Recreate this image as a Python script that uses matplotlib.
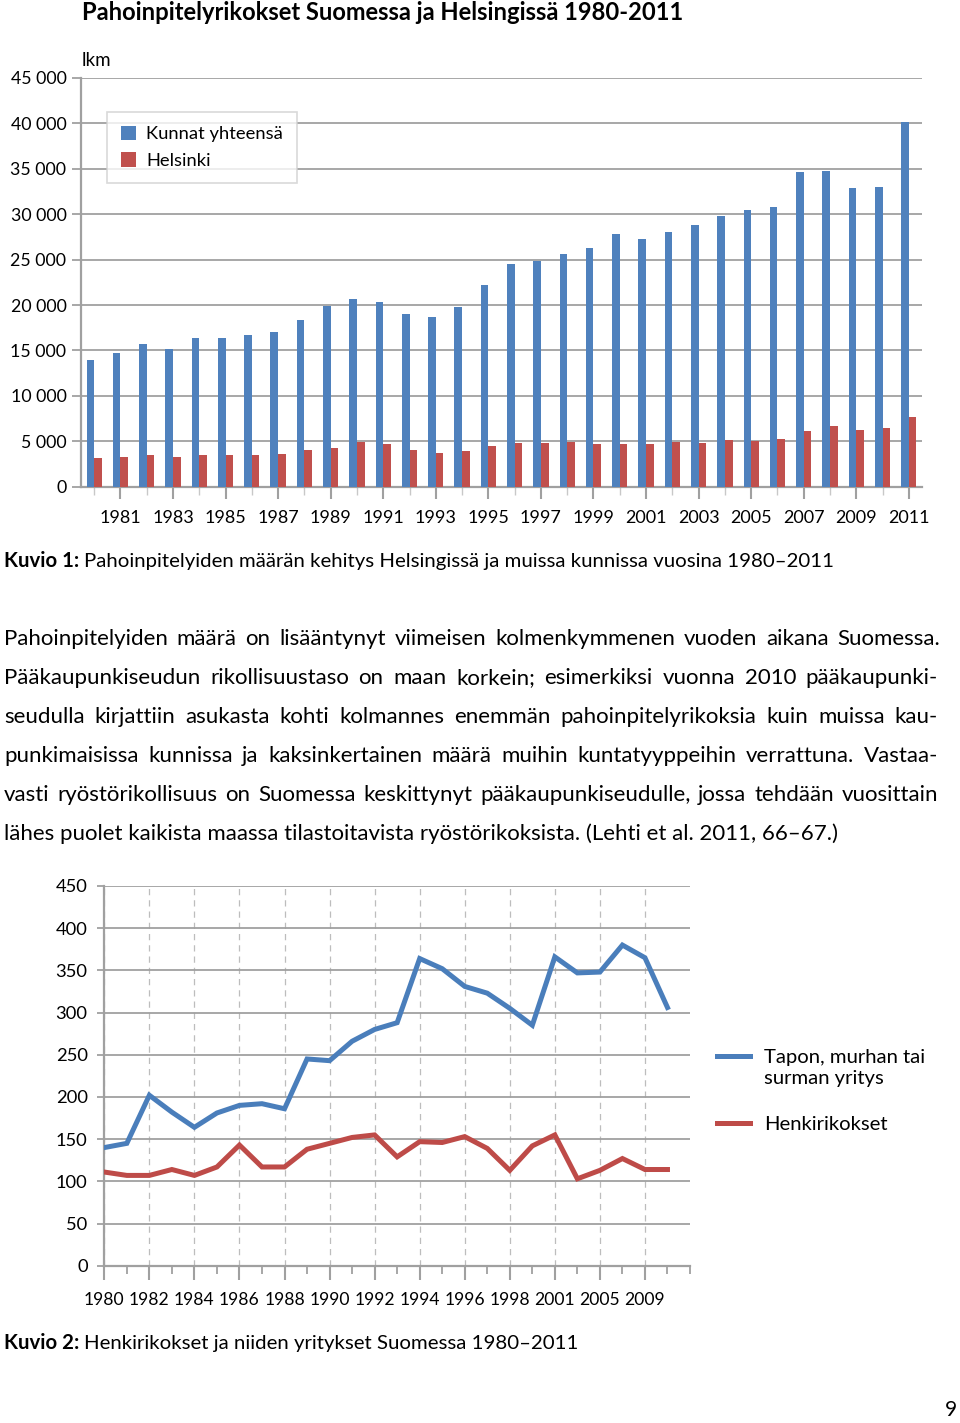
import matplotlib
matplotlib.use("Agg")
import matplotlib.pyplot as plt
from matplotlib.lines import Line2D
from matplotlib.ticker import FixedLocator, FuncFormatter
import numpy as np

plt.rcParams['font.family'] = ['Lato', 'DejaVu Sans']

W, H = 960, 1423
blue = '#4F81BD'
red = '#C0504D'
grid_gray = '#A0A0A0'

# --- Kuvio 1: pahoinpitelyrikokset ---
years1 = list(range(1980, 2012))
kunnat = [13950, 14700, 15700, 15200, 16400, 16400, 16650, 17050, 18350, 19950,
          20650, 20350, 19050, 18650, 19800, 22200, 24500, 24850, 25600, 26250,
          27800, 27300, 28000, 28800, 29800, 30450, 30850, 34600, 34750, 32850,
          33050, 40150]
helsinki = [3120, 3270, 3450, 3300, 3520, 3450, 3450, 3600, 4040, 4260,
            4960, 4700, 4040, 3670, 3890, 4520, 4770, 4770, 4880, 4740,
            4700, 4700, 4920, 4770, 5100, 5070, 5290, 6170, 6680, 6200,
            6420, 7640]

# --- Kuvio 2: henkirikokset ja yritykset ---
labels2 = ['1980', '1982', '1984', '1986', '1988', '1990', '1992', '1994',
           '1996', '1998', '2001', '2005', '2009']
yritykset = [140, 145, 202, 182, 164, 181, 190, 192, 186, 245, 243, 266, 280,
             288, 364, 352, 331, 323, 305, 285, 366, 347, 348, 380, 365, 306]
henkirikokset = [111, 107, 107, 114, 107, 117, 143, 117, 117, 138, 145, 152, 155,
                 129, 147, 146, 153, 139, 113, 142, 155, 103, 113, 127, 114, 114]

body_lines = [
    "Pahoinpitelyiden määrä on lisääntynyt viimeisen kolmenkymmenen vuoden aikana Suomessa.",
    "Pääkaupunkiseudun rikollisuustaso on maan korkein; esimerkiksi vuonna 2010 pääkaupunki-",
    "seudulla kirjattiin asukasta kohti kolmannes enemmän pahoinpitelyrikoksia kuin muissa kau-",
    "punkimaisissa kunnissa ja kaksinkertainen määrä muihin kuntatyyppeihin verrattuna. Vastaa-",
    "vasti ryöstörikollisuus on Suomessa keskittynyt pääkaupunkiseudulle, jossa tehdään vuosittain",
    "lähes puolet kaikista maassa tilastoitavista ryöstörikoksista. (Lehti et al. 2011, 66–67.)",
]


def fx(px):
    return px / W


def fy(py):
    return 1 - py / H


def thousands(v, pos):
    return f"{int(v):,}".replace(",", " ")


fig = plt.figure(figsize=(W / 100, H / 100), dpi=100)
renderer = fig.canvas.get_renderer()

# ---------------- chart 1 ----------------
ax1 = fig.add_axes([fx(81), fy(486.7), fx(841), 408.7 / H])
x1 = np.arange(len(years1))
ax1.bar(x1 - 0.145, kunnat, width=0.29, color=blue, label='Kunnat yhteensä', zorder=3)
ax1.bar(x1 + 0.145, helsinki, width=0.29, color=red, label='Helsinki', zorder=3)
ax1.set_xlim(-0.5, len(years1) - 0.5)
ax1.set_ylim(0, 45000)
ax1.set_yticks(np.arange(0, 45001, 5000))
ax1.yaxis.set_major_formatter(FuncFormatter(thousands))
ax1.yaxis.grid(True, color=grid_gray, lw=1.3)
ax1.set_axisbelow(True)
for s in ['top', 'right']:
    ax1.spines[s].set_visible(False)
for s in ['left', 'bottom']:
    ax1.spines[s].set_color(grid_gray)
    ax1.spines[s].set_linewidth(1.6)
ax1.xaxis.set_major_locator(FixedLocator(x1[1::2]))
ax1.xaxis.set_minor_locator(FixedLocator(x1[0::2]))
ax1.set_xticklabels([str(y) for y in years1[1::2]])
ax1.tick_params(axis='x', which='major', length=8.5, width=1.5, color=grid_gray,
                labelsize=13, pad=8)
ax1.tick_params(axis='x', which='minor', length=5.5, width=1.0, color='#C8C8C8')
ax1.tick_params(axis='y', length=6.5, width=1.3, color=grid_gray, labelsize=12.8, pad=4)

leg1 = ax1.legend(loc='upper left', bbox_to_anchor=(fx(107), fy(112)),
                  bbox_transform=fig.transFigure, borderaxespad=0, fontsize=13.2,
                  frameon=True, fancybox=False, handlelength=0.85, handleheight=0.85,
                  handletextpad=0.55, borderpad=0.75, labelspacing=0.55)
leg1.get_frame().set_edgecolor('#D0D0D0')
leg1.get_frame().set_linewidth(1.2)

fig.text(fx(82), fy(13), "Pahoinpitelyrikokset Suomessa ja Helsingissä 1980-2011",
         fontsize=17.1, fontweight='bold', va='center')
fig.text(fx(82), fy(61), "lkm", fontsize=13.5, va='center')

# ---------------- chart 2 ----------------
ax2 = fig.add_axes([fx(104.3), fy(1265.7), fx(585.7), 379.7 / H])
x2 = np.arange(len(yritykset))
ax2.plot(x2, yritykset, color='#4A7EBB', lw=3.6, solid_joinstyle='miter', zorder=3,
         label='Tapon, murhan tai\nsurman yritys')
ax2.plot(x2, henkirikokset, color='#BE4B48', lw=3.6, solid_joinstyle='miter', zorder=3,
         label='Henkirikokset')
ax2.set_xlim(0, 26)
ax2.set_ylim(0, 450)
ax2.set_yticks(np.arange(0, 451, 50))
ax2.yaxis.grid(True, color=grid_gray, lw=1.3)
ax2.xaxis.set_major_locator(FixedLocator(np.arange(0, 25, 2)))
ax2.xaxis.set_minor_locator(FixedLocator(list(np.arange(1, 26, 2)) + [26]))
ax2.set_xticklabels(labels2)
ax2.xaxis.grid(True, which='major', color='#BDBDBD', lw=0.9, linestyle=(0, (5, 4)))
ax2.set_axisbelow(True)
for s in ['top', 'right']:
    ax2.spines[s].set_visible(False)
for s in ['left', 'bottom']:
    ax2.spines[s].set_color(grid_gray)
    ax2.spines[s].set_linewidth(1.6)
ax2.tick_params(axis='x', which='major', length=10, width=1.5, color=grid_gray,
                labelsize=12.6, pad=9)
ax2.tick_params(axis='x', which='minor', length=5.5, width=1.3, color=grid_gray)
ax2.tick_params(axis='y', length=5, width=1.3, color=grid_gray, labelsize=13.2, pad=7)

# legend for chart 2, key lines aligned with the first text row
handles2, names2 = ax2.get_legend_handles_labels()
for h, name, ly in zip(handles2, names2, [1056, 1123]):
    fig.add_artist(Line2D([fx(717), fx(750)], [fy(ly), fy(ly)], color=h.get_color(),
                          lw=3.6, transform=fig.transFigure))
    fig.text(fx(764), fy(ly - 7), name, fontsize=14.6, va='top', linespacing=1.3)

# ---------------- captions and body text ----------------
def caption(py, bold, rest):
    t = fig.text(fx(4), fy(py), bold, fontsize=14.7, fontweight='bold', va='baseline')
    bb = t.get_window_extent(renderer)
    fig.text(fx(bb.x1 + 5), fy(py), rest, fontsize=14.7, va='baseline')


caption(567, "Kuvio 1:", "Pahoinpitelyiden määrän kehitys Helsingissä ja muissa kunnissa vuosina 1980–2011")
caption(1349, "Kuvio 2:", "Henkirikokset ja niiden yritykset Suomessa 1980–2011")


def justify(line, py, x0, x1, size):
    words = line.split()
    texts = [fig.text(0, fy(py), w, fontsize=size, va='baseline') for w in words]
    widths = [t.get_window_extent(renderer).width for t in texts]
    gap = (x1 - x0 - sum(widths)) / (len(words) - 1)
    x = x0
    for t, w in zip(texts, widths):
        t.set_x(fx(x))
        x += w + gap


body_size = 16.0
for i, line in enumerate(body_lines):
    py = 645 + 39 * i
    if i < len(body_lines) - 1:
        justify(line, py, 4, 940 if i == 0 else 938, body_size)
    else:
        fig.text(fx(4), fy(py), line, fontsize=body_size, va='baseline')

fig.text(fx(951), fy(1410), "9", fontsize=15, ha='center', va='center')

fig.savefig("out.png", dpi=100)
